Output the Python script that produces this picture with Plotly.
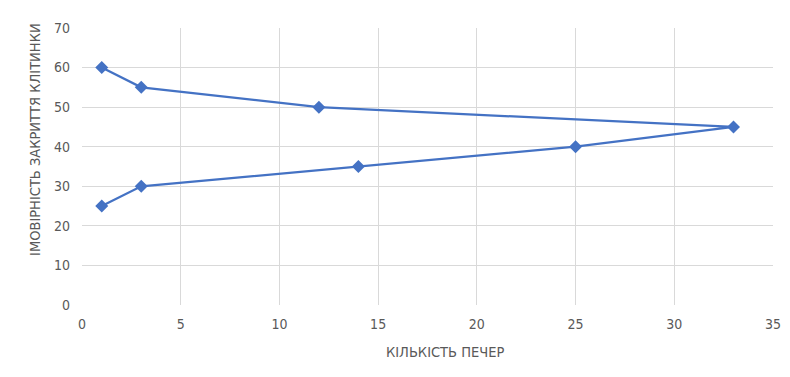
import plotly.graph_objects as go

x_vals = [1, 3, 12, 33, 25, 14, 3, 1]
y_vals = [60, 55, 50, 45, 40, 35, 30, 25]
x_title = "КІЛЬКІСТЬ ПЕЧЕР"
y_title = "ІМОВІРНІСТЬ ЗАКРИТТЯ КЛІТИНКИ"

fig = go.Figure(go.Scatter(
    x=x_vals, y=y_vals, mode="lines+markers",
    line=dict(color="#4472C4", width=2.25),
    marker=dict(symbol="diamond", size=10, color="#4472C4"),
))

font_family = "DejaVu Sans Condensed, Liberation Sans, sans-serif"
fig.update_layout(
    width=790, height=377,
    margin=dict(l=74, r=25, t=20, b=80, autoexpand=False),
    paper_bgcolor="white", plot_bgcolor="white",
    showlegend=False,
    font=dict(family=font_family, color="#595959", size=14),
    annotations=[
        dict(text=x_title, xref="paper", yref="paper", x=0.5255, y=-0.170,
             xanchor="center", yanchor="middle", showarrow=False,
             font=dict(size=14.5, color="#595959")),
        dict(text=y_title, xref="paper", yref="paper", x=-0.068, y=0.596,
             xanchor="center", yanchor="middle", showarrow=False, textangle=-90,
             font=dict(size=14.5, color="#595959")),
    ],
)
fig.update_xaxes(
    range=[0, 35], dtick=5, showgrid=True, gridcolor="#d9d9d9", gridwidth=1,
    zeroline=False, showline=False, ticks="", ticklabelstandoff=9,
    tickfont=dict(size=14, color="#595959"),
    automargin=False,
)
fig.update_yaxes(
    range=[0, 70], dtick=10, showgrid=True, gridcolor="#d9d9d9", gridwidth=1,
    zeroline=False, showline=False, ticks="", ticklabelstandoff=11,
    tickfont=dict(size=14, color="#595959"),
    automargin=False,
)
fig.write_html("out.html")
